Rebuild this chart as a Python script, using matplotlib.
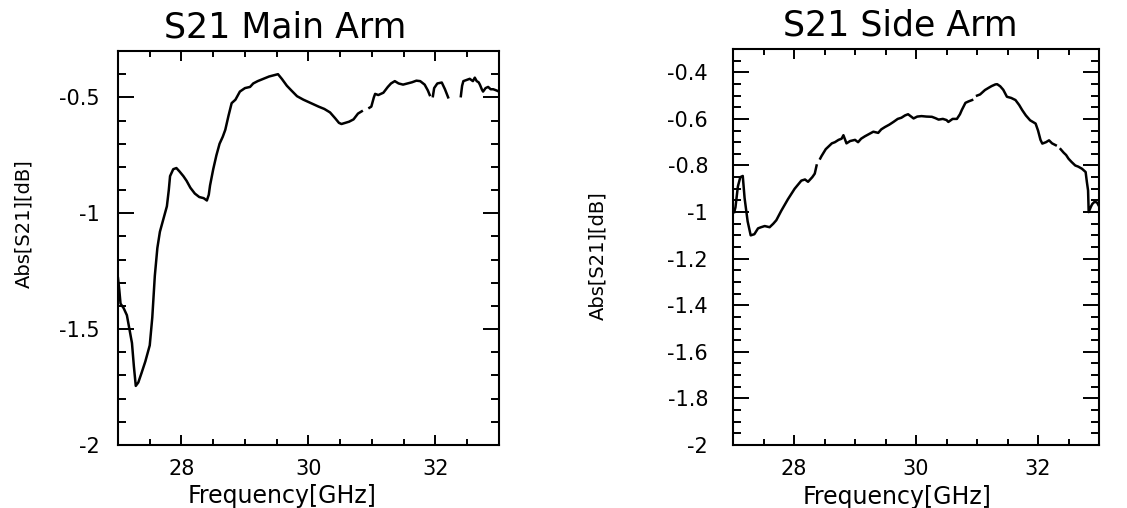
import numpy as np
import matplotlib
matplotlib.use("Agg")
import matplotlib.pyplot as plt
from matplotlib.ticker import MultipleLocator

nan = np.nan

# S21 main arm (nan = gap in the trace)
main_freq = [27.00, 27.02, 27.04, 27.09, 27.14, 27.18, 27.22, 27.25, 27.28, 27.32,
             27.37, 27.43, 27.50, 27.54, 27.58, 27.62, 27.66, 27.71, 27.77, 27.80,
             27.82, 27.87, 27.92, 27.97, 28.03, 28.08, 28.14, 28.21, 28.28, 28.35,
             28.40, 28.43, 28.45, 28.50, 28.55, 28.60, 28.65, 28.69, 28.74, 28.79,
             28.85, 28.92, 29.00, 29.08, 29.13, 29.20, 29.29, 29.38, 29.45, 29.52,
             29.58, 29.66, 29.73, 29.82, 29.92, 30.00, 30.08, 30.16, 30.25, 30.34,
             30.42, 30.48, 30.52, 30.58, 30.64, 30.71, 30.78, 30.84, nan, 30.96,
             30.99, 31.03, 31.05, 31.10, 31.18, 31.25, 31.30, 31.36, 31.42, 31.49,
             31.56, 31.63, 31.70, 31.76, 31.83, 31.88, 31.91, nan, 31.96, 31.98,
             32.03, 32.10, 32.15, 32.20, nan, 32.40, 32.42, 32.44, 32.49, 32.54,
             32.59, 32.62, 32.65, 32.68, 32.70, 32.73, 32.75, 32.79, 32.83, 32.87,
             32.91, 32.96, 33.00]
main_s21 = [-1.28, -1.33, -1.39, -1.41, -1.44, -1.50, -1.56, -1.66, -1.745, -1.73,
            -1.69, -1.64, -1.57, -1.45, -1.27, -1.15, -1.08, -1.03, -0.97, -0.90,
            -0.84, -0.81, -0.805, -0.82, -0.84, -0.86, -0.89, -0.915, -0.93, -0.935,
            -0.945, -0.92, -0.88, -0.81, -0.75, -0.70, -0.67, -0.64, -0.58, -0.525,
            -0.51, -0.475, -0.46, -0.455, -0.44, -0.43, -0.42, -0.41, -0.405, -0.40,
            -0.42, -0.45, -0.47, -0.495, -0.51, -0.52, -0.53, -0.54, -0.55, -0.565,
            -0.59, -0.61, -0.615, -0.61, -0.605, -0.595, -0.57, -0.56, nan, -0.545,
            -0.54, -0.50, -0.485, -0.49, -0.48, -0.455, -0.44, -0.43, -0.44, -0.445,
            -0.44, -0.435, -0.428, -0.43, -0.445, -0.47, -0.49, nan, -0.495, -0.46,
            -0.44, -0.436, -0.465, -0.50, nan, -0.495, -0.45, -0.43, -0.425, -0.42,
            -0.43, -0.415, -0.43, -0.435, -0.445, -0.465, -0.475, -0.46, -0.455, -0.465,
            -0.465, -0.47, -0.475]

# S21 side arm
side_freq = [27.02, 27.04, 27.08, 27.12, 27.16, 27.19, 27.24, 27.29, 27.35, 27.41,
             27.46, 27.52, 27.60, 27.66, 27.71, 27.79, 27.90, 28.01, 28.12, 28.18,
             28.23, 28.30, 28.34, 28.37, nan, 28.43, 28.45, 28.52, 28.56, 28.62,
             28.67, 28.73, 28.78, 28.81, 28.86, 28.92, 29.00, 29.05, 29.10, 29.16,
             29.23, 29.30, 29.38, 29.43, 29.49, 29.56, 29.63, 29.70, 29.76, 29.82,
             29.87, 29.92, 29.96, 30.02, 30.09, 30.17, 30.26, 30.32, 30.37, 30.44,
             30.50, 30.53, 30.60, 30.67, 30.72, 30.75, 30.81, 30.86, 30.92, nan,
             31.00, 31.05, 31.13, 31.20, 31.24, 31.30, 31.33, 31.38, 31.43, 31.49,
             31.56, 31.63, 31.69, 31.74, 31.80, 31.87, 31.96, 32.00, 32.04, 32.07,
             32.13, 32.18, 32.23, 32.29, nan, 32.37, 32.42, 32.46, 32.50, 32.55,
             32.61, 32.66, 32.72, 32.78, 32.80, 32.82, 32.83, 32.87, 32.89, 32.93,
             32.97, 33.00]
side_s21 = [-1.00, -0.98, -0.89, -0.85, -0.845, -0.94, -1.04, -1.10, -1.095, -1.07,
            -1.065, -1.06, -1.065, -1.05, -1.035, -0.995, -0.945, -0.90, -0.865, -0.86,
            -0.87, -0.85, -0.835, -0.80, nan, -0.77, -0.76, -0.73, -0.72, -0.705,
            -0.70, -0.69, -0.685, -0.67, -0.705, -0.695, -0.69, -0.70, -0.685, -0.675,
            -0.665, -0.655, -0.66, -0.645, -0.635, -0.625, -0.613, -0.60, -0.595, -0.585,
            -0.58, -0.59, -0.598, -0.59, -0.588, -0.59, -0.591, -0.597, -0.603, -0.60,
            -0.605, -0.613, -0.60, -0.60, -0.58, -0.562, -0.531, -0.525, -0.519, nan,
            -0.50, -0.495, -0.476, -0.465, -0.459, -0.452, -0.451, -0.46, -0.475, -0.505,
            -0.51, -0.519, -0.54, -0.562, -0.585, -0.606, -0.62, -0.65, -0.69, -0.706,
            -0.70, -0.692, -0.705, -0.713, nan, -0.73, -0.745, -0.755, -0.771, -0.785,
            -0.80, -0.805, -0.814, -0.828, -0.87, -0.907, -1.00, -0.975, -0.965, -0.955,
            -0.96, -0.975]

plt.rcParams["font.family"] = ["DejaVu Sans"]

fig = plt.figure(figsize=(11.27, 5.08), dpi=100)
ax1 = fig.add_axes([0.1047, 0.124, 0.338, 0.7756])
ax2 = fig.add_axes([0.6504, 0.124, 0.3248, 0.7795])


def style(ax, ymajor, yminor, ypad):
    ax.set_xlim(27, 33)
    ax.set_ylim(-2, -0.3)
    ax.xaxis.set_major_locator(MultipleLocator(2))
    ax.xaxis.set_minor_locator(MultipleLocator(0.5))
    ax.yaxis.set_major_locator(MultipleLocator(ymajor))
    ax.yaxis.set_minor_locator(MultipleLocator(yminor))
    ax.tick_params(which="both", direction="in", top=True, right=True, width=1.4,
                   labelsize=15, colors="black")
    ax.tick_params(axis="x", which="major", length=7.5, pad=10)
    ax.tick_params(axis="x", which="minor", length=4)
    ax.tick_params(axis="y", which="major", length=11.5, pad=ypad)
    ax.tick_params(axis="y", which="minor", length=6)
    for sp in ax.spines.values():
        sp.set_linewidth(1.5)
    ax.yaxis.set_major_formatter(plt.FuncFormatter(lambda v, p: f"{v:g}"))


ax1.plot(main_freq, main_s21, color="black", lw=1.8)
style(ax1, 0.5, 0.1, 13)
ax1.set_title("S21 Main Arm", fontsize=25, x=0.438, pad=10)
ax1.set_xlabel("Frequency[GHz]", fontsize=17)
ax1.set_ylabel("Abs[S21][dB]", fontsize=14)
ax1.xaxis.set_label_coords(0.43, -0.10)
ax1.yaxis.set_label_coords(-0.223, 0.563)

ax2.plot(side_freq, side_s21, color="black", lw=1.8)
style(ax2, 0.2, 0.05, 18)
ax2.set_title("S21 Side Arm", fontsize=25, x=0.456, pad=10)
ax2.set_xlabel("Frequency[GHz]", fontsize=17)
ax2.set_ylabel("Abs[S21][dB]", fontsize=14)
ax2.xaxis.set_label_coords(0.448, -0.10)
ax2.yaxis.set_label_coords(-0.344, 0.477)

fig.savefig("out.png", dpi=100)
